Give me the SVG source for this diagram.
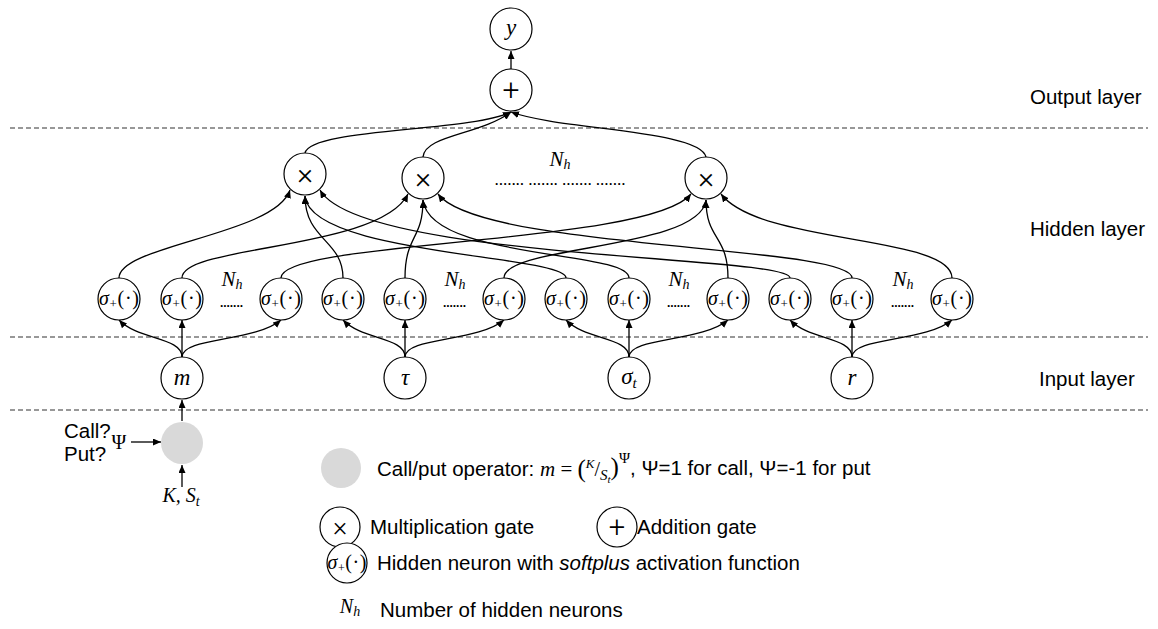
<svg xmlns="http://www.w3.org/2000/svg" width="1158" height="629" viewBox="0 0 1158 629">
  <defs>
    <marker id="arr" markerUnits="userSpaceOnUse" markerWidth="9" markerHeight="8" refX="8" refY="3.5" orient="auto">
      <path d="M0,0 L8,3.5 L0,7 z" fill="#000"/>
    </marker>
    <style>
      .node circle { fill: #fff; stroke: #000; stroke-width: 1.2; }
      .op circle { fill: #d9d9d9; stroke: none; }
      .conn path { fill: none; stroke: #000; stroke-width: 1.3; marker-end: url(#arr); }
      .dash { stroke: #333; stroke-width: 1.2; stroke-dasharray: 5 3; }
      .lbl { font-family: "Liberation Sans", Arial, sans-serif; font-size: 20.5px; fill: #000; }
      .mi { font-family: "Liberation Serif", "DejaVu Serif", serif; font-style: italic; fill: #000; }
      .mr { font-family: "Liberation Serif", "DejaVu Serif", serif; fill: #000; }
      .big { font-family: "Liberation Serif", "DejaVu Serif", serif; font-size: 23px; fill: #000; text-anchor: middle; }
      .neu { font-family: "Liberation Serif", "DejaVu Serif", serif; font-size: 20px; fill: #000; text-anchor: middle; }
      .dots { font-family: "Liberation Sans", Arial, sans-serif; font-weight: bold; font-size: 12px; fill: #000; }
      .gate { font-family: Roboto, "DejaVu Sans", sans-serif; font-weight: 300; fill: #000; text-anchor: middle; }
    </style>
  </defs>

  <!-- layer separators -->
  <g id="separators">
    <line class="dash" x1="10" y1="128" x2="1148" y2="128"/>
    <line class="dash" x1="10" y1="337" x2="1148" y2="337"/>
    <line class="dash" x1="10" y1="410" x2="1148" y2="410"/>
  </g>

  <!-- layer names -->
  <g id="layer-labels">
    <text class="lbl" x="1030" y="104">Output layer</text>
    <text class="lbl" x="1030" y="236">Hidden layer</text>
    <text class="lbl" x="1039" y="386">Input layer</text>
  </g>

  <!-- connectors -->
  <g id="connectors" class="conn">
    <!-- output -->
    <path d="M511,69 L511,51"/>
    <path d="M305,153 C310,128 470,132 511,112"/>
    <path d="M423,157 C425,135 480,135 511,112"/>
    <path d="M706,157 C700,130 560,130 511,112"/>
    <!-- hidden neurons to gate 1 -->
    <path d="M119,278 C119,245 275,235 290,190"/>
    <path d="M343,278 C343,240 305,240 305,196"/>
    <path d="M566,278 C566,255 310,255 305,196"/>
    <path d="M790,278 C790,255 360,260 320,190"/>
    <!-- hidden neurons to gate 2 -->
    <path d="M182,278 C182,245 380,250 408,194"/>
    <path d="M405,278 C405,235 423,240 423,200"/>
    <path d="M629,278 C629,250 430,260 423,200"/>
    <path d="M852,278 C852,245 480,250 438,194"/>
    <!-- hidden neurons to gate N_h -->
    <path d="M281,278 C281,240 650,245 691,194"/>
    <path d="M504,278 C504,245 700,250 706,200"/>
    <path d="M728,278 C728,235 706,240 706,200"/>
    <path d="M952,278 C952,235 760,245 721,194"/>
    <!-- inputs to hidden neurons -->
    <path d="M182,357 C182,337 138,340 119,320"/>
    <path d="M182,357 L182,320"/>
    <path d="M182,357 C182,337 255,342 281,320"/>
    <path d="M405,357 C405,337 362,340 343,320"/>
    <path d="M405,357 L405,320"/>
    <path d="M405,357 C405,337 478,342 504,320"/>
    <path d="M629,357 C629,337 585,340 566,320"/>
    <path d="M629,357 L629,320"/>
    <path d="M629,357 C629,337 702,342 728,320"/>
    <path d="M852,357 C852,337 809,340 790,320"/>
    <path d="M852,357 L852,320"/>
    <path d="M852,357 C852,337 926,342 952,320"/>
    <!-- call/put operator -->
    <path d="M182,421 L182,400"/>
    <path d="M131,442 L161,442"/>
    <path d="M182,487 L182,465"/>
  </g>

  <!-- output layer -->
  <g id="node-y" class="node">
    <circle cx="511" cy="29" r="21"/>
    <text class="big" x="511" y="35"><tspan font-style="italic">y</tspan></text>
  </g>
  <g id="node-sum" class="node">
    <circle cx="511" cy="90" r="21"/>
    <text class="gate" x="511" y="100" font-size="30">+</text>
  </g>

  <!-- multiplication gates -->
  <g id="gate-1" class="node">
    <circle cx="305" cy="174" r="21"/>
    <text class="gate" x="305" y="184" font-size="30">×</text>
  </g>
  <g id="gate-2" class="node">
    <circle cx="423" cy="178" r="21"/>
    <text class="gate" x="423" y="188" font-size="30">×</text>
  </g>
  <g id="gate-n" class="node">
    <circle cx="706" cy="178" r="21"/>
    <text class="gate" x="706" y="188" font-size="30">×</text>
  </g>
  <g id="gate-count">
    <text class="mi" x="560" y="166" font-size="21" text-anchor="middle">N<tspan font-size="14" dy="3">h</tspan></text>
    <text class="dots" x="495" y="185" textLength="130" lengthAdjust="spacing">....... ....... ....... .......</text>
  </g>

  <!-- hidden neurons -->
  <g id="hidden-m">
    <g class="node"><circle cx="119" cy="299" r="21"/><text class="neu" x="119" y="305" textLength="40" lengthAdjust="spacing"><tspan font-style="italic">σ</tspan><tspan font-size="13" dy="3">+</tspan><tspan dy="-3">(·)</tspan></text></g>
    <g class="node"><circle cx="182" cy="299" r="21"/><text class="neu" x="182" y="305" textLength="40" lengthAdjust="spacing"><tspan font-style="italic">σ</tspan><tspan font-size="13" dy="3">+</tspan><tspan dy="-3">(·)</tspan></text></g>
    <g class="node"><circle cx="281" cy="299" r="21"/><text class="neu" x="281" y="305" textLength="40" lengthAdjust="spacing"><tspan font-style="italic">σ</tspan><tspan font-size="13" dy="3">+</tspan><tspan dy="-3">(·)</tspan></text></g>
    <text class="mi" x="232" y="286" font-size="21" text-anchor="middle">N<tspan font-size="14" dy="3">h</tspan></text>
    <text class="dots" x="220" y="307" textLength="23" lengthAdjust="spacing">.......</text>
  </g>
  <g id="hidden-tau">
    <g class="node"><circle cx="343" cy="299" r="21"/><text class="neu" x="343" y="305" textLength="40" lengthAdjust="spacing"><tspan font-style="italic">σ</tspan><tspan font-size="13" dy="3">+</tspan><tspan dy="-3">(·)</tspan></text></g>
    <g class="node"><circle cx="405" cy="299" r="21"/><text class="neu" x="405" y="305" textLength="40" lengthAdjust="spacing"><tspan font-style="italic">σ</tspan><tspan font-size="13" dy="3">+</tspan><tspan dy="-3">(·)</tspan></text></g>
    <g class="node"><circle cx="504" cy="299" r="21"/><text class="neu" x="504" y="305" textLength="40" lengthAdjust="spacing"><tspan font-style="italic">σ</tspan><tspan font-size="13" dy="3">+</tspan><tspan dy="-3">(·)</tspan></text></g>
    <text class="mi" x="455" y="286" font-size="21" text-anchor="middle">N<tspan font-size="14" dy="3">h</tspan></text>
    <text class="dots" x="443" y="307" textLength="23" lengthAdjust="spacing">.......</text>
  </g>
  <g id="hidden-sigma">
    <g class="node"><circle cx="566" cy="299" r="21"/><text class="neu" x="566" y="305" textLength="40" lengthAdjust="spacing"><tspan font-style="italic">σ</tspan><tspan font-size="13" dy="3">+</tspan><tspan dy="-3">(·)</tspan></text></g>
    <g class="node"><circle cx="629" cy="299" r="21"/><text class="neu" x="629" y="305" textLength="40" lengthAdjust="spacing"><tspan font-style="italic">σ</tspan><tspan font-size="13" dy="3">+</tspan><tspan dy="-3">(·)</tspan></text></g>
    <g class="node"><circle cx="728" cy="299" r="21"/><text class="neu" x="728" y="305" textLength="40" lengthAdjust="spacing"><tspan font-style="italic">σ</tspan><tspan font-size="13" dy="3">+</tspan><tspan dy="-3">(·)</tspan></text></g>
    <text class="mi" x="679" y="286" font-size="21" text-anchor="middle">N<tspan font-size="14" dy="3">h</tspan></text>
    <text class="dots" x="667" y="307" textLength="23" lengthAdjust="spacing">.......</text>
  </g>
  <g id="hidden-r">
    <g class="node"><circle cx="790" cy="299" r="21"/><text class="neu" x="790" y="305" textLength="40" lengthAdjust="spacing"><tspan font-style="italic">σ</tspan><tspan font-size="13" dy="3">+</tspan><tspan dy="-3">(·)</tspan></text></g>
    <g class="node"><circle cx="852" cy="299" r="21"/><text class="neu" x="852" y="305" textLength="40" lengthAdjust="spacing"><tspan font-style="italic">σ</tspan><tspan font-size="13" dy="3">+</tspan><tspan dy="-3">(·)</tspan></text></g>
    <g class="node"><circle cx="952" cy="299" r="21"/><text class="neu" x="952" y="305" textLength="40" lengthAdjust="spacing"><tspan font-style="italic">σ</tspan><tspan font-size="13" dy="3">+</tspan><tspan dy="-3">(·)</tspan></text></g>
    <text class="mi" x="903" y="286" font-size="21" text-anchor="middle">N<tspan font-size="14" dy="3">h</tspan></text>
    <text class="dots" x="891" y="307" textLength="23" lengthAdjust="spacing">.......</text>
  </g>

  <!-- input layer -->
  <g id="input-m" class="node">
    <circle cx="182" cy="378" r="21"/>
    <text class="big" x="182" y="385"><tspan font-style="italic">m</tspan></text>
  </g>
  <g id="input-tau" class="node">
    <circle cx="405" cy="378" r="21"/>
    <text class="big" x="405" y="385"><tspan font-style="italic">τ</tspan></text>
  </g>
  <g id="input-sigma" class="node">
    <circle cx="629" cy="378" r="21"/>
    <text class="big" x="629" y="384"><tspan font-style="italic">σ</tspan><tspan font-style="italic" font-size="15" dy="4">t</tspan></text>
  </g>
  <g id="input-r" class="node">
    <circle cx="852" cy="378" r="21"/>
    <text class="big" x="852" y="385"><tspan font-style="italic">r</tspan></text>
  </g>

  <!-- call/put operator -->
  <g id="operator" class="op">
    <circle cx="182" cy="443" r="21"/>
    <text class="lbl" x="64" y="438" font-size="18">Call?</text>
    <text class="lbl" x="64" y="461" font-size="18">Put?</text>
    <text class="mr" x="119" y="449" font-size="20" text-anchor="middle">Ψ</text>
    <text class="mi" x="181" y="502" font-size="20" text-anchor="middle">K, S<tspan font-size="14" dy="4">t</tspan></text>
  </g>

  <!-- legend -->
  <g id="legend-operator" class="op">
    <circle cx="341" cy="468" r="20"/>
    <text class="lbl" x="377" y="476">Call/put operator: <tspan class="mi" font-size="21">m</tspan><tspan class="mr" font-size="21"> = </tspan><tspan class="mr" font-size="25" dy="1">(</tspan><tspan class="mi" font-size="13" dy="-9">K</tspan><tspan class="mr" font-size="20" dy="8">/</tspan><tspan class="mi" font-size="15" dy="4">S</tspan><tspan class="mi" font-size="11" dy="3">t</tspan><tspan class="mr" font-size="25" dy="-8">)</tspan><tspan class="mr" font-size="15" dy="-12">Ψ</tspan><tspan dy="12">, Ψ=1 for call, Ψ=-1 for put</tspan></text>
  </g>
  <g id="legend-mult" class="node">
    <circle cx="340" cy="527" r="20"/>
    <text class="gate" x="340" y="536" font-size="27">×</text>
    <text class="lbl" x="370" y="534">Multiplication gate</text>
  </g>
  <g id="legend-add" class="node">
    <circle cx="617" cy="527" r="20"/>
    <text class="gate" x="617" y="537" font-size="29">+</text>
    <text class="lbl" x="637" y="534">Addition gate</text>
  </g>
  <g id="legend-neuron" class="node">
    <circle cx="347" cy="563" r="20"/>
    <text class="neu" x="347" y="569" font-size="19" textLength="39" lengthAdjust="spacing"><tspan font-style="italic">σ</tspan><tspan font-size="12" dy="3">+</tspan><tspan dy="-3">(·)</tspan></text>
    <text class="lbl" x="377" y="570">Hidden neuron with <tspan font-style="italic">softplus</tspan> activation function</text>
  </g>
  <g id="legend-count">
    <text class="mi" x="350" y="613" font-size="20" text-anchor="middle">N<tspan font-size="14" dy="3">h</tspan></text>
    <text class="lbl" x="380" y="617">Number of hidden neurons</text>
  </g>
</svg>
